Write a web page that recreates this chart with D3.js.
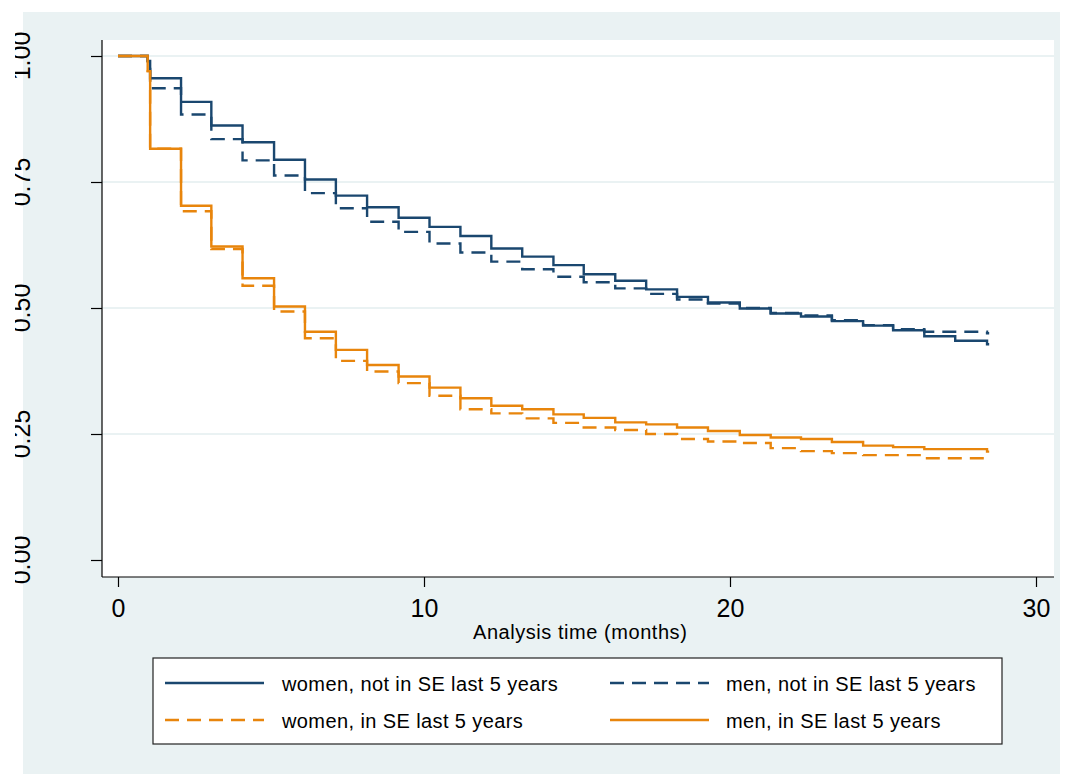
<!DOCTYPE html>
<html><head><meta charset="utf-8">
<script src="https://cdn.jsdelivr.net/npm/d3@7/dist/d3.min.js"></script>
<style>body{margin:0;background:#fff}svg{display:block}</style>
</head><body>
<svg id="chart" width="1067" height="774"></svg>
<script>
// ---- data ----
const stepTimes = [0.97, 1.05, 2.06, 3.05, 4.07, 5.10, 6.11, 7.12, 8.14, 9.17, 10.18, 11.19, 12.20, 13.21, 14.23, 15.22, 16.25, 17.26, 18.27, 19.28, 20.32, 21.33, 22.32, 23.33, 24.35, 25.33, 26.35, 27.36, 28.40];
const endTime = 28.47;
const womenNotSE = [0.99, 0.956, 0.909, 0.862, 0.829, 0.794, 0.755, 0.723, 0.700, 0.679, 0.661, 0.643, 0.618, 0.602, 0.585, 0.567, 0.554, 0.537, 0.522, 0.511, 0.499, 0.489, 0.483, 0.474, 0.465, 0.456, 0.444, 0.435, 0.428];
const menNotSE   = [0.99, 0.936, 0.884, 0.835, 0.793, 0.763, 0.728, 0.698, 0.671, 0.651, 0.628, 0.610, 0.592, 0.577, 0.562, 0.551, 0.539, 0.528, 0.517, 0.509, 0.500, 0.490, 0.485, 0.476, 0.466, 0.458, 0.453, 0.453, 0.450];
const womenSE    = [0.97, 0.816, 0.692, 0.617, 0.544, 0.493, 0.440, 0.395, 0.374, 0.351, 0.326, 0.299, 0.291, 0.281, 0.272, 0.263, 0.258, 0.250, 0.240, 0.235, 0.232, 0.222, 0.216, 0.212, 0.208, 0.208, 0.202, 0.202, 0.202];
const menSE      = [0.97, 0.816, 0.703, 0.622, 0.559, 0.503, 0.453, 0.417, 0.387, 0.364, 0.342, 0.321, 0.306, 0.299, 0.289, 0.282, 0.273, 0.269, 0.263, 0.256, 0.248, 0.243, 0.240, 0.234, 0.227, 0.224, 0.220, 0.220, 0.215];
const seriesNames = ["women, not in SE last 5 years", "men, not in SE last 5 years", "women, in SE last 5 years", "men, in SE last 5 years"];
const xTicks = [0, 10, 20, 30];
const yTicks = [0, 0.25, 0.5, 0.75, 1];
const yTickLabels = ["0.00", "0.25", "0.50", "0.75", "1.00"];
const xTitle = "Analysis time (months)";

// ---- layout ----
const NAVY = "#1a476f", ORANGE = "#e8850c", BG = "#eaf2f3";
const FONT = "'Liberation Sans', Arial, sans-serif";
const svg = d3.select("#chart");
const plot = {l: 102, r: 1054, t: 40, b: 577};
const x = d3.scaleLinear().domain([0, 30]).range([118, 1036]);
const y = d3.scaleLinear().domain([0, 1]).range([560, 56]);

svg.append("defs").append("clipPath").attr("id", "lblclip")
  .append("rect").attr("x", 15).attr("y", 0).attr("width", 1052).attr("height", 774);

svg.append("rect").attr("x", 23).attr("y", 12).attr("width", 1037).attr("height", 762).attr("fill", BG);
svg.append("rect").attr("x", plot.l).attr("y", plot.t).attr("width", plot.r - plot.l).attr("height", plot.b - plot.t).attr("fill", "#fff");

// gridlines
svg.append("g").selectAll("line").data(yTicks.filter(d => d > 0)).join("line")
  .attr("x1", plot.l).attr("x2", plot.r)
  .attr("y1", d => y(d)).attr("y2", d => y(d))
  .attr("stroke", BG).attr("stroke-width", 2);

// curves
function pts(vals) {
  const p = [{t: 0, v: 1}];
  stepTimes.forEach((t, i) => p.push({t, v: vals[i]}));
  p.push({t: endTime, v: vals[vals.length - 1]});
  return p;
}
const line = d3.line().x(d => x(d.t)).y(d => y(d.v)).curve(d3.curveStepAfter);
const series = [
  {vals: menNotSE, color: NAVY, dash: "14,8"},
  {vals: womenSE, color: ORANGE, dash: "14,8"},
  {vals: womenNotSE, color: NAVY, dash: null},
  {vals: menSE, color: ORANGE, dash: null}
];
svg.append("g").selectAll("path").data(series).join("path")
  .attr("d", d => line(pts(d.vals)))
  .attr("fill", "none").attr("stroke", d => d.color).attr("stroke-width", 2.4)
  .attr("stroke-dasharray", d => d.dash);

// y axis
const yAxis = svg.append("g").attr("transform", `translate(${plot.l},0)`)
  .call(d3.axisLeft(y).tickValues(yTicks).tickFormat((d, i) => yTickLabels[i]).tickSize(11).tickSizeOuter(0));
yAxis.select(".domain").remove();
yAxis.selectAll(".tick line").attr("stroke", "#000").attr("stroke-width", 1.2);
yAxis.selectAll(".tick text").remove();
svg.append("line").attr("x1", plot.l).attr("x2", plot.l).attr("y1", plot.t).attr("y2", plot.b)
  .attr("stroke", "#000").attr("stroke-width", 1.2);
svg.append("g").attr("clip-path", "url(#lblclip)").selectAll("text").data(yTicks).join("text")
  .attr("transform", d => `translate(30,${y(d)}) rotate(-90)`)
  .attr("text-anchor", "middle").attr("font-family", FONT).attr("font-size", 25).attr("fill", "#000")
  .text((d, i) => yTickLabels[i]);

// x axis
const xAxis = svg.append("g").attr("transform", `translate(0,${plot.b})`)
  .call(d3.axisBottom(x).tickValues(xTicks).tickFormat(d3.format("d")).tickSize(10).tickSizeOuter(0).tickPadding(4));
xAxis.select(".domain").remove();
xAxis.selectAll(".tick line").attr("stroke", "#000").attr("stroke-width", 1.2);
xAxis.selectAll(".tick text").attr("font-family", FONT).attr("font-size", 25).attr("fill", "#000")
  .attr("dy", null).attr("y", 40);
svg.append("line").attr("x1", plot.l).attr("x2", plot.r).attr("y1", plot.b).attr("y2", plot.b)
  .attr("stroke", "#000").attr("stroke-width", 1.2);

svg.append("text").attr("x", 473).attr("y", 639)
  .attr("font-family", FONT).attr("font-size", 20).attr("letter-spacing", 0.55).attr("fill", "#000").text(xTitle);

// legend
const lg = svg.append("g");
lg.append("rect").attr("x", 153).attr("y", 658).attr("width", 849).attr("height", 86)
  .attr("fill", "#fff").attr("stroke", "#222").attr("stroke-width", 1.2);
const legendItems = [
  {name: seriesNames[0], color: NAVY, dash: null, lx: 165, tx: 282, ly: 683},
  {name: seriesNames[1], color: NAVY, dash: "14,8", lx: 610, tx: 726, ly: 683},
  {name: seriesNames[2], color: ORANGE, dash: "14,8", lx: 165, tx: 282, ly: 720},
  {name: seriesNames[3], color: ORANGE, dash: null, lx: 610, tx: 726, ly: 720}
];
const li = lg.selectAll("g").data(legendItems).join("g");
li.append("line").attr("x1", d => d.lx).attr("x2", d => d.lx + 99).attr("y1", d => d.ly).attr("y2", d => d.ly)
  .attr("stroke", d => d.color).attr("stroke-width", 2.4).attr("stroke-dasharray", d => d.dash);
li.append("text").attr("x", d => d.tx).attr("y", d => d.ly + 7.5)
  .attr("font-family", FONT).attr("font-size", 20).attr("letter-spacing", 0.4).attr("fill", "#000").text(d => d.name);
</script>
</body></html>
